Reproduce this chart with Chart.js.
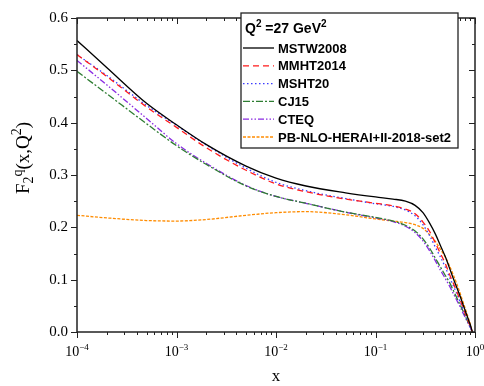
<!DOCTYPE html>
<html>
<head>
<meta charset="utf-8">
<script src="https://cdn.jsdelivr.net/npm/chart.js@4.4.1/dist/chart.umd.min.js"></script>
<style>
  html, body { margin: 0; padding: 0; background: #fff; }
  canvas { display: block; }
</style>
</head>
<body>
<canvas id="sfChart" width="484" height="386"></canvas>
<script>
// x values (Bjorken x) and F2 values
const xValues = [1e-4, 2e-4, 5e-4, 1e-3, 2e-3, 5e-3, 1e-2, 2e-2, 5e-2, 0.1, 0.15, 0.2, 0.25, 0.3, 0.35, 0.4, 0.45, 0.5, 0.55, 0.6, 0.65, 0.7, 0.75, 0.8, 0.85, 0.9, 0.94];
const mstw2008 = [0.557, 0.505, 0.437, 0.396, 0.358, 0.317, 0.294, 0.279, 0.266, 0.258, 0.254, 0.250, 0.242, 0.228, 0.208, 0.187, 0.165, 0.145, 0.124, 0.104, 0.087, 0.071, 0.055, 0.040, 0.026, 0.013, 0.0];
const mmht2014 = [0.530, 0.488, 0.430, 0.391, 0.352, 0.309, 0.283, 0.268, 0.254, 0.246, 0.241, 0.235, 0.226, 0.210, 0.192, 0.170, 0.150, 0.132, 0.112, 0.095, 0.079, 0.064, 0.049, 0.035, 0.022, 0.010, 0.0];
const msht20 = [0.530, 0.490, 0.433, 0.395, 0.357, 0.313, 0.286, 0.270, 0.255, 0.245, 0.240, 0.233, 0.222, 0.205, 0.184, 0.162, 0.143, 0.125, 0.106, 0.090, 0.075, 0.060, 0.046, 0.033, 0.020, 0.009, 0.0];
const cj15 = [0.498, 0.455, 0.398, 0.356, 0.320, 0.279, 0.259, 0.246, 0.229, 0.219, 0.212, 0.204, 0.193, 0.178, 0.160, 0.141, 0.124, 0.109, 0.096, 0.081, 0.067, 0.054, 0.042, 0.030, 0.019, 0.009, 0.0];
const cteq = [0.519, 0.472, 0.408, 0.360, 0.322, 0.280, 0.259, 0.246, 0.229, 0.218, 0.211, 0.202, 0.190, 0.174, 0.155, 0.136, 0.118, 0.103, 0.089, 0.075, 0.062, 0.050, 0.038, 0.027, 0.017, 0.008, 0.0];
const pbNlo = [0.223, 0.218, 0.213, 0.212, 0.215, 0.223, 0.228, 0.230, 0.224, 0.216, 0.212, 0.209, 0.205, 0.198, 0.186, 0.173, 0.158, 0.144, 0.128, 0.111, 0.094, 0.077, 0.060, 0.044, 0.029, 0.014, 0.0];

const seriesNames = ['MSTW2008', 'MMHT2014', 'MSHT20', 'CJ15', 'CTEQ', 'PB-NLO-HERAI+II-2018-set2'];
const yTicks = [0.0, 0.1, 0.2, 0.3, 0.4, 0.5, 0.6];

const serif = '"Liberation Serif", "Times New Roman", serif';
const sans = '"Liberation Sans", Arial, sans-serif';

function pts(arr) {
    return xValues.map((x, i) => ({ x: x, y: arr[i] }));
}

function makeSet(i, arr, color, dash) {
    return {
        label: seriesNames[i],
        data: pts(arr),
        borderColor: color,
        backgroundColor: color,
        borderDash: dash,
        borderWidth: 1.3,
        pointRadius: 0,
        cubicInterpolationMode: 'monotone',
        fill: false
    };
}

function partsWidth(ctx, parts) {
    let total = 0;
    parts.forEach(p => { ctx.font = p.font; total += ctx.measureText(p.t).width; });
    return total;
}

// draw the parts of a label, with sub/superscripts
function drawParts(ctx, parts, x, y, align) {
    const total = partsWidth(ctx, parts);
    let cx = align === 'center' ? x - total / 2 : x;
    parts.forEach(p => {
        ctx.font = p.font;
        ctx.fillText(p.t, cx, y + (p.dy || 0));
        cx += ctx.measureText(p.t).width;
    });
}

function legendTitle(size) {
    const s = Math.round(size * 0.7);
    return [
        { t: 'Q', font: 'bold ' + size + 'px ' + sans },
        { t: '2', font: 'bold ' + s + 'px ' + sans, dy: -6 },
        { t: ' =27 GeV', font: 'bold ' + size + 'px ' + sans },
        { t: '2', font: 'bold ' + s + 'px ' + sans, dy: -6 }
    ];
}

const frame = {
    id: 'frame',
    afterDraw(chart) {
        const ctx = chart.ctx;
        const a = chart.chartArea;
        const xs = chart.scales.x, ys = chart.scales.y;
        ctx.save();
        ctx.strokeStyle = '#222';
        ctx.fillStyle = '#000';
        ctx.lineWidth = 1.5;
        ctx.strokeRect(a.left, a.top, a.right - a.left, a.bottom - a.top);

        ctx.lineWidth = 1;
        ctx.beginPath();
        // y ticks: left outward, right inward
        ys.ticks.forEach((t, i) => {
            const py = Math.round(ys.getPixelForValue(t.value)) + 0.5;
            ctx.moveTo(a.left - 6, py); ctx.lineTo(a.left, py);
            ctx.moveTo(a.right, py); ctx.lineTo(a.right - 6, py);
            if (i < ys.ticks.length - 1) {
                const pm = Math.round(ys.getPixelForValue(t.value + 0.05)) + 0.5;
                ctx.moveTo(a.left - 3, pm); ctx.lineTo(a.left, pm);
                ctx.moveTo(a.right, pm); ctx.lineTo(a.right - 3, pm);
            }
        });
        // x ticks: bottom outward, top inward
        xs.ticks.forEach(t => {
            const lg = Math.log10(t.value);
            const major = Math.abs(lg - Math.round(lg)) < 1e-6;
            const len = major ? 6 : 3;
            const px = Math.round(xs.getPixelForValue(t.value)) + 0.5;
            ctx.moveTo(px, a.bottom); ctx.lineTo(px, a.bottom + len);
            ctx.moveTo(px, a.top); ctx.lineTo(px, a.top + len);
        });
        ctx.stroke();

        // x tick labels 10^n
        ctx.textBaseline = 'alphabetic';
        ctx.textAlign = 'left';
        xs.ticks.forEach(t => {
            const lg = Math.log10(t.value);
            if (Math.abs(lg - Math.round(lg)) > 1e-6) return;
            const e = Math.round(lg);
            const px = xs.getPixelForValue(t.value);
            drawParts(ctx, [
                { t: '10', font: '14px ' + serif },
                { t: String(e).replace('-', '\u2212'), font: '9px ' + serif, dy: -6 }
            ], px, a.bottom + 24, 'center');
        });

        // x axis title
        ctx.font = '17px ' + serif;
        ctx.textAlign = 'center';
        ctx.fillText('x', (a.left + a.right) / 2, 381);

        // y axis title F2^q(x,Q^2)
        ctx.save();
        ctx.translate(29, 158);
        ctx.rotate(-Math.PI / 2);
        ctx.textAlign = 'left';
        drawParts(ctx, [
            { t: 'F', font: '19px ' + serif },
            { t: '2', font: '14px ' + serif, dy: 4 },
            { t: 'q', font: '14px ' + serif, dy: -7 },
            { t: '(x,Q', font: '19px ' + serif },
            { t: '2', font: '14px ' + serif, dy: -8 },
            { t: ')', font: '19px ' + serif }
        ], 0, 0, 'center');
        ctx.restore();

        // legend box inside the plot
        const bx = 241, by = 13, bw = 217, bh = 135;
        ctx.fillStyle = '#fff';
        ctx.fillRect(bx, by, bw, bh);
        ctx.strokeStyle = '#222';
        ctx.lineWidth = 1.3;
        ctx.strokeRect(bx, by, bw, bh);
        ctx.fillStyle = '#000';
        ctx.textAlign = 'left';
        // title is about 82px wide in the reference
        let size = 14;
        while (size > 10 && partsWidth(ctx, legendTitle(size)) > 84) size -= 0.5;
        drawParts(ctx, legendTitle(size), bx + 4, by + 20, 'left');
        chart.data.datasets.forEach((ds, i) => {
            const ly = by + 35 + i * 17.8;
            ctx.strokeStyle = ds.borderColor;
            ctx.lineWidth = 1.3;
            ctx.setLineDash(ds.borderDash || []);
            ctx.beginPath();
            ctx.moveTo(bx + 2, ly); ctx.lineTo(bx + 33, ly);
            ctx.stroke();
            ctx.setLineDash([]);
            ctx.fillStyle = '#000';
            ctx.font = 'bold 13px ' + sans;
            ctx.textBaseline = 'middle';
            ctx.fillText(ds.label, bx + 37, ly + 1);
            ctx.textBaseline = 'alphabetic';
        });
        ctx.restore();
    }
};

const ctx = document.getElementById('sfChart').getContext('2d');

new Chart(ctx, {
    type: 'line',
    data: {
        datasets: [
            makeSet(0, mstw2008, '#000000', []),
            makeSet(1, mmht2014, '#ff1a1a', [6, 4]),
            makeSet(2, msht20, '#3b3bff', [1.5, 2.5]),
            makeSet(3, cj15, '#2e7d32', [7, 2, 2, 2]),
            makeSet(4, cteq, '#8a2be2', [6, 2, 1.5, 2, 1.5, 2]),
            makeSet(5, pbNlo, '#ff8c00', [3, 1.5])
        ]
    },
    options: {
        responsive: false,
        animation: false,
        devicePixelRatio: 1,
        layout: { padding: { left: 0, top: 7, right: 9, bottom: 0 } },
        plugins: {
            legend: { display: false },
            tooltip: { enabled: false }
        },
        scales: {
            x: {
                type: 'logarithmic',
                min: 1e-4,
                max: 1,
                grid: { display: false, drawTicks: false },
                border: { display: false },
                ticks: { display: false },
                afterBuildTicks: scale => {
                    const t = [];
                    for (let e = -4; e < 0; e++) {
                        for (let m = 1; m < 10; m++) t.push({ value: m * Math.pow(10, e) });
                    }
                    t.push({ value: 1 });
                    scale.ticks = t;
                },
                afterFit: scale => { scale.height = 54; }
            },
            y: {
                min: 0,
                max: 0.6,
                grid: { display: false, drawTicks: false },
                border: { display: false },
                afterBuildTicks: scale => {
                    scale.ticks = yTicks.map(v => ({ value: v }));
                },
                ticks: {
                    padding: 9,
                    color: '#000',
                    font: { family: serif, size: 15 },
                    callback: v => Number(v).toFixed(1)
                },
                afterFit: scale => { scale.width = 77; }
            }
        }
    },
    plugins: [frame]
});
</script>
</body>
</html>
